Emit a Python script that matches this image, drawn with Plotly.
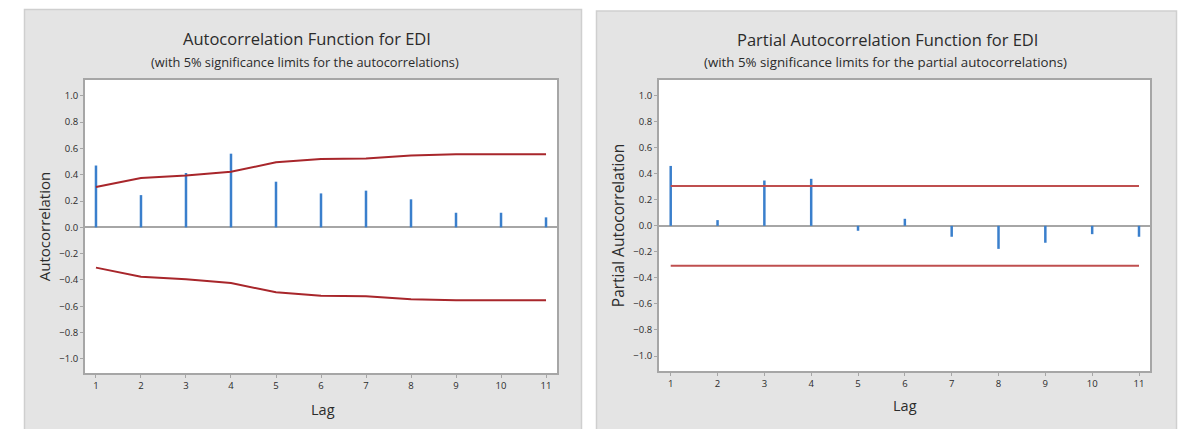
import plotly.graph_objects as go

# ---- data ----
lags = [1, 2, 3, 4, 5, 6, 7, 8, 9, 10, 11]
acf_values = [0.47, 0.245, 0.413, 0.56, 0.347, 0.258, 0.279, 0.213, 0.111, 0.111, 0.076]
acf_limit = [0.306, 0.375, 0.395, 0.423, 0.494, 0.52, 0.524, 0.547, 0.555, 0.555, 0.555]
pacf_values = [0.46, 0.044, 0.348, 0.361, -0.038, 0.054, -0.084, -0.177, -0.13, -0.064, -0.084]
pacf_limit = 0.306
y_ticks = [-1.0, -0.8, -0.6, -0.4, -0.2, 0.0, 0.2, 0.4, 0.6, 0.8, 1.0]

W, H = 1185, 429
FONT = "Open Sans"
BAR_COLOR = "#3a7fcc"
ACF_LIM_COLOR = "#a8262b"
PACF_LIM_COLOR = "#bf4f4f"
TXT = "#2b2b2b"


def px(x):
    return x / W


def py(y):
    return 1 - y / H


def stems(xs, ys):
    sx, sy = [], []
    for x, y in zip(xs, ys):
        sx += [x, x, None]
        sy += [0, y, None]
    return sx, sy


fig = go.Figure()

# ACF stems
sx, sy = stems(lags, acf_values)
fig.add_trace(go.Scatter(x=sx, y=sy, mode="lines", line=dict(color=BAR_COLOR, width=2.5),
                         xaxis="x", yaxis="y", showlegend=False, hoverinfo="skip"))
fig.add_trace(go.Scatter(x=lags, y=acf_limit, mode="lines", line=dict(color=ACF_LIM_COLOR, width=2),
                         xaxis="x", yaxis="y", showlegend=False))
fig.add_trace(go.Scatter(x=lags, y=[-v for v in acf_limit], mode="lines",
                         line=dict(color=ACF_LIM_COLOR, width=2),
                         xaxis="x", yaxis="y", showlegend=False))

# PACF stems
sx, sy = stems(lags, pacf_values)
fig.add_trace(go.Scatter(x=sx, y=sy, mode="lines", line=dict(color=BAR_COLOR, width=2.5),
                         xaxis="x2", yaxis="y2", showlegend=False, hoverinfo="skip"))
fig.add_trace(go.Scatter(x=[lags[0], lags[-1]], y=[pacf_limit, pacf_limit], mode="lines",
                         line=dict(color=PACF_LIM_COLOR, width=2),
                         xaxis="x2", yaxis="y2", showlegend=False))
fig.add_trace(go.Scatter(x=[lags[0], lags[-1]], y=[-pacf_limit, -pacf_limit], mode="lines",
                         line=dict(color=PACF_LIM_COLOR, width=2),
                         xaxis="x2", yaxis="y2", showlegend=False))

axis_common = dict(showline=True, mirror=True, linecolor="#a6a6a6", linewidth=2,
                   showgrid=False, ticks="outside", ticklen=3, tickcolor="#a6a6a6",
                   tickfont=dict(family=FONT, size=9.5, color=TXT))

fig.update_layout(
    width=W, height=H,
    margin=dict(l=0, r=0, t=0, b=0),
    paper_bgcolor="white",
    plot_bgcolor="white",
    showlegend=False,
    xaxis=dict(domain=[px(85), px(557)], range=[0.756, 11.244], anchor="y",
               tickvals=lags, zeroline=False, **axis_common),
    yaxis=dict(domain=[py(373), py(80)], range=[-1.107, 1.12], anchor="x",
               tickvals=y_ticks, tickformat=".1f",
               zeroline=True, zerolinecolor="#a6a6a6", zerolinewidth=2,
               title=dict(text="Autocorrelation", font=dict(family=FONT, size=15, color=TXT), standoff=5),
               **axis_common),
    xaxis2=dict(domain=[px(659), px(1150)], range=[0.75, 11.235], anchor="y2",
                tickvals=lags, zeroline=False, **axis_common),
    yaxis2=dict(domain=[py(371), py(80)], range=[-1.115, 1.12], anchor="x2",
                tickvals=y_ticks, tickformat=".1f",
                zeroline=True, zerolinecolor="#a6a6a6", zerolinewidth=2,
                title=dict(text="Partial Autocorrelation", font=dict(family=FONT, size=15.5, color=TXT), standoff=5),
                **axis_common),
    shapes=[
        dict(type="rect", xref="paper", yref="paper", layer="below",
             x0=px(24.5), x1=px(581.5), y0=-0.05, y1=py(9.5),
             fillcolor="#e4e4e4", line=dict(color="#cfcfcf", width=1.5)),
        dict(type="rect", xref="paper", yref="paper", layer="below",
             x0=px(596.5), x1=px(1176.5), y0=-0.05, y1=py(11),
             fillcolor="#e4e4e4", line=dict(color="#cfcfcf", width=1.5)),
        dict(type="rect", xref="x domain", yref="y domain", layer="below",
             x0=0, x1=1, y0=0, y1=1, fillcolor="white", line=dict(width=0)),
        dict(type="rect", xref="x2 domain", yref="y2 domain", layer="below",
             x0=0, x1=1, y0=0, y1=1, fillcolor="white", line=dict(width=0)),
    ],
    annotations=[
        dict(text="Autocorrelation Function for EDI", x=px(307), y=py(38), xref="paper", yref="paper",
             showarrow=False, font=dict(family=FONT, size=16.5, color=TXT), xanchor="center", yanchor="middle"),
        dict(text="(with 5% significance limits for the autocorrelations)", x=px(305), y=py(62),
             xref="paper", yref="paper", showarrow=False,
             font=dict(family=FONT, size=12.8, color=TXT), xanchor="center", yanchor="middle"),
        dict(text="Partial Autocorrelation Function for EDI", x=px(887), y=py(40), xref="paper", yref="paper",
             showarrow=False, font=dict(family=FONT, size=16.5, color=TXT), xanchor="center", yanchor="middle"),
        dict(text="(with 5% significance limits for the partial autocorrelations)", x=px(886), y=py(62),
             xref="paper", yref="paper", showarrow=False,
             font=dict(family=FONT, size=13.3, color=TXT), xanchor="center", yanchor="middle"),
        dict(text="Lag", x=px(323), y=py(409), xref="paper", yref="paper", showarrow=False,
             font=dict(family=FONT, size=14.5, color=TXT), xanchor="center", yanchor="middle"),
        dict(text="Lag", x=px(905), y=py(405), xref="paper", yref="paper", showarrow=False,
             font=dict(family=FONT, size=14.5, color=TXT), xanchor="center", yanchor="middle"),
    ],
)

fig.write_html("out.html", config={"displayModeBar": False},
               post_script="document.body.style.margin='0';")
